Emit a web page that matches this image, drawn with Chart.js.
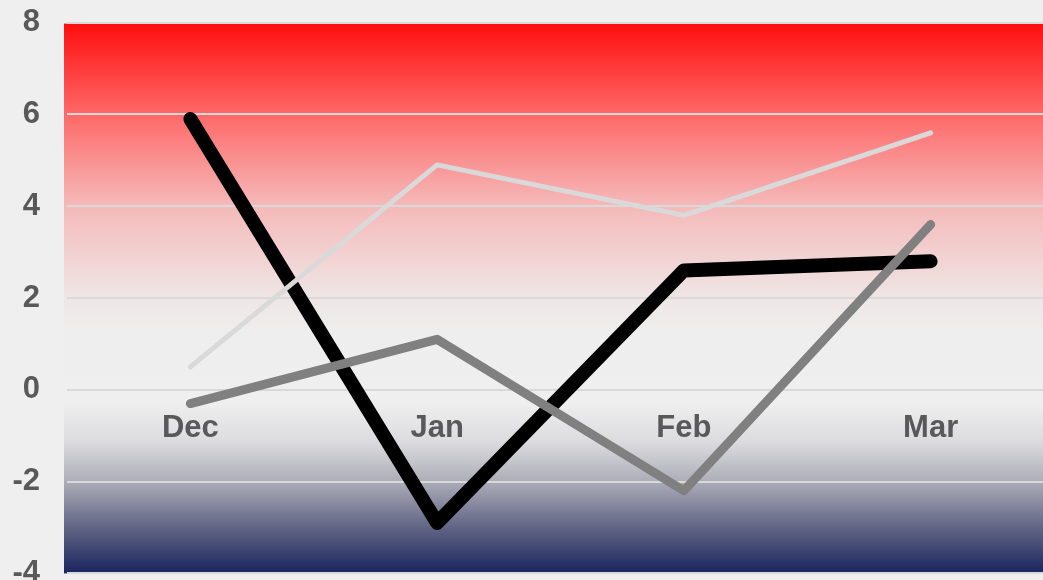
<!DOCTYPE html>
<html>
<head>
<meta charset="utf-8">
<script src="https://cdn.jsdelivr.net/npm/chart.js@4/dist/chart.umd.min.js"></script>
<style>
    html, body { margin: 0; padding: 0; background: #efefef; overflow: hidden; }
    #wrap { position: absolute; left: 0; top: -23px; width: 1054px; height: 642px; }
</style>
</head>
<body>
<div id="wrap"><canvas id="grafico"></canvas></div>
<script>
// Datos del gráfico
const meses = ['Dec', 'Jan', 'Feb', 'Mar'];
const serieNegra = [5.9, -2.9, 2.6, 2.8];
const serieGris = [-0.3, 1.1, -2.2, 3.6];
const serieClara = [0.5, 4.9, 3.8, 5.6];
const ticksY = [-4, -2, 0, 2, 4, 6, 8];

// Fondo degradado del área del gráfico
const fondoDegradado = {
    id: 'fondoDegradado',
    beforeDraw(chart) {
        const { ctx, chartArea } = chart;
        const g = ctx.createLinearGradient(0, chartArea.top, 0, chartArea.bottom);
        g.addColorStop(0, '#ff0d0d');
        g.addColorStop(0.166, '#ff6868');
        g.addColorStop(0.33, '#f5b8b8');
        g.addColorStop(0.5, '#efe6e6');
        g.addColorStop(0.57, '#eeeeee');
        g.addColorStop(0.69, '#efefef');
        g.addColorStop(0.76, '#dcdcdf');
        g.addColorStop(0.83, '#afafba');
        g.addColorStop(0.92, '#5e6282');
        g.addColorStop(1, '#19245f');
        ctx.save();
        ctx.fillStyle = g;
        // el degradado empieza unos pixeles antes que las lineas de la grilla
        ctx.fillRect(chartArea.left - 3, chartArea.top + 1, chartArea.right - chartArea.left + 3, chartArea.bottom - chartArea.top - 1);
        ctx.restore();
    }
};

function serie(datos, color, ancho) {
    return {
        data: datos,
        borderColor: color,
        borderWidth: ancho,
        borderCapStyle: 'round',
        borderJoinStyle: 'round',
        pointRadius: 0,
        tension: 0,
        fill: false
    };
}

const fuente = { family: 'Liberation Sans, Arial', size: 31, weight: 'bold' };

new Chart(document.getElementById('grafico'), {
    type: 'line',
    data: {
        labels: meses,
        datasets: [
            serie(serieClara, '#d9d9d9', 5),
            serie(serieGris, '#808080', 9),
            serie(serieNegra, '#000000', 14)
        ]
    },
    options: {
        responsive: true,
        maintainAspectRatio: false,
        animation: false,
        layout: { padding: { top: 10, right: 0, left: 0, bottom: 0 } },
        plugins: { legend: { display: false }, tooltip: { enabled: false } },
        scales: {
            x: {
                position: { y: 0 },
                offset: true,
                grid: { display: false, drawTicks: false },
                border: { display: false },
                ticks: { padding: 20, color: '#595959', font: fuente }
            },
            y: {
                min: -4,
                max: 8,
                afterFit(scale) { scale.width = 67; },
                afterBuildTicks(scale) { scale.ticks = ticksY.map(v => ({ value: v })); },
                grid: { color: '#d9d9d9', lineWidth: 2, drawTicks: false },
                border: { display: false },
                ticks: { padding: 27, color: '#595959', font: fuente }
            }
        }
    },
    plugins: [fondoDegradado]
});
</script>
</body>
</html>
